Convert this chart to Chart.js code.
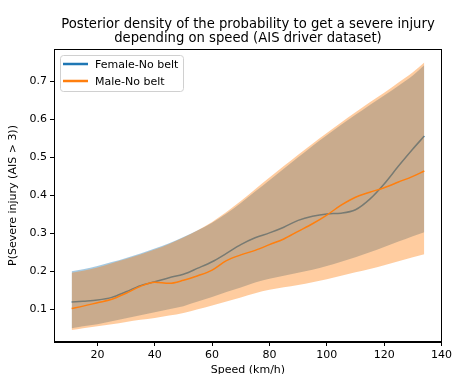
<!DOCTYPE html>
<html>
<head>
<meta charset="utf-8">
<script src="https://cdn.jsdelivr.net/npm/chart.js@4/dist/chart.umd.min.js"></script>
<style>
  html, body { margin: 0; padding: 0; background: #fff; }
  #wrap { width: 455px; height: 374px; }
</style>
</head>
<body>
<div id="wrap"><canvas id="chart"></canvas></div>
<script>
// speed grid (km/h)
const speeds = [11, 15, 20, 25, 30, 35, 40, 45, 50, 55, 60, 65, 70, 75, 80, 85, 90, 95, 100, 105, 110, 115, 120, 125, 130, 134];

// Female - No belt
const femaleMean = [0.119, 0.121, 0.124, 0.131, 0.146, 0.162, 0.172, 0.183, 0.192, 0.208, 0.225, 0.247, 0.270, 0.288, 0.301, 0.316, 0.334, 0.345, 0.351, 0.353, 0.362, 0.390, 0.430, 0.477, 0.522, 0.556];
const femaleUpper = [0.200, 0.205, 0.214, 0.224, 0.235, 0.247, 0.260, 0.274, 0.290, 0.308, 0.328, 0.352, 0.380, 0.410, 0.440, 0.470, 0.500, 0.530, 0.558, 0.586, 0.612, 0.638, 0.663, 0.689, 0.716, 0.743];
const femaleLower = [0.050, 0.055, 0.060, 0.068, 0.076, 0.084, 0.092, 0.100, 0.108, 0.120, 0.132, 0.145, 0.157, 0.170, 0.180, 0.188, 0.196, 0.204, 0.214, 0.225, 0.237, 0.250, 0.264, 0.278, 0.292, 0.303];

// Male - No belt
const maleMean = [0.102, 0.108, 0.117, 0.126, 0.142, 0.160, 0.171, 0.168, 0.176, 0.188, 0.203, 0.228, 0.243, 0.255, 0.270, 0.285, 0.305, 0.325, 0.348, 0.374, 0.395, 0.408, 0.420, 0.435, 0.450, 0.464];
const maleUpper = [0.196, 0.201, 0.210, 0.221, 0.232, 0.244, 0.257, 0.272, 0.289, 0.308, 0.330, 0.356, 0.385, 0.416, 0.447, 0.477, 0.507, 0.536, 0.564, 0.592, 0.619, 0.645, 0.670, 0.697, 0.724, 0.750];
const maleLower = [0.045, 0.050, 0.055, 0.060, 0.066, 0.072, 0.077, 0.083, 0.090, 0.100, 0.110, 0.120, 0.131, 0.142, 0.151, 0.158, 0.164, 0.171, 0.179, 0.188, 0.197, 0.206, 0.216, 0.226, 0.237, 0.245];

const xTicks = [20, 40, 60, 80, 100, 120, 140];
const yTicks = [0.1, 0.2, 0.3, 0.4, 0.5, 0.6, 0.7];
const seriesNames = ['Female-No belt', 'Male-No belt'];
const titleLines = ['Posterior density of the probability to get a severe injury', 'depending on speed (AIS driver dataset)'];

const BLUE = '#1f77b4';
const ORANGE = '#ff7f0e';
const FONT = "'DejaVu Sans', sans-serif";

const pts = ys => speeds.map((x, i) => ({ x: x, y: ys[i] }));

// title + frame + legend, matplotlib style
const decorations = {
  id: 'decorations',
  afterDraw(chart) {
    const ctx = chart.ctx;
    const a = chart.chartArea;
    ctx.save();

    // frame (all four spines)
    ctx.strokeStyle = '#000';
    ctx.lineWidth = 1;
    ctx.strokeRect(Math.round(a.left) + 0.5, Math.round(a.top) + 0.5,
      Math.round(a.right - a.left) - 1, Math.round(a.bottom - a.top) - 1);

    // title
    ctx.fillStyle = '#000';
    ctx.font = '13.2px ' + FONT;
    ctx.textAlign = 'center';
    ctx.textBaseline = 'middle';
    const cx = (a.left + a.right) / 2;
    ctx.fillText(titleLines[0], cx, 25);
    ctx.fillText(titleLines[1], cx, 39);

    // legend
    const lx = a.left + 6, ly = a.top + 6, lw = 123, lh = 36;
    ctx.beginPath();
    ctx.roundRect(lx + 0.5, ly + 0.5, lw, lh, 3);
    ctx.fillStyle = 'rgba(255,255,255,0.8)';
    ctx.fill();
    ctx.strokeStyle = '#d0d0d0';
    ctx.lineWidth = 1;
    ctx.stroke();

    ctx.font = '11px ' + FONT;
    ctx.textAlign = 'left';
    [BLUE, ORANGE].forEach((c, i) => {
      const y = ly + 9 + i * 17;
      ctx.strokeStyle = c;
      ctx.lineWidth = 2.5;
      ctx.beginPath();
      ctx.moveTo(lx + 3, y);
      ctx.lineTo(lx + 28, y);
      ctx.stroke();
      ctx.fillStyle = '#000';
      ctx.fillText(seriesNames[i], lx + 35, y + 1);
    });
    ctx.restore();
  }
};

new Chart(document.getElementById('chart'), {
  type: 'line',
  data: {
    datasets: [
      {
        label: seriesNames[0],
        data: pts(femaleMean),
        borderColor: BLUE,
        borderWidth: 1.5,
        pointRadius: 0,
        fill: false,
        cubicInterpolationMode: 'monotone',
        order: 3
      },
      {
        label: 'female upper',
        data: pts(femaleUpper),
        borderWidth: 0,
        pointRadius: 0,
        backgroundColor: 'rgba(31,119,180,0.4)',
        fill: 2,
        cubicInterpolationMode: 'monotone',
        order: 4
      },
      {
        label: 'female lower',
        data: pts(femaleLower),
        borderWidth: 0,
        pointRadius: 0,
        fill: false,
        cubicInterpolationMode: 'monotone',
        order: 4
      },
      {
        label: seriesNames[1],
        data: pts(maleMean),
        borderColor: ORANGE,
        borderWidth: 1.5,
        pointRadius: 0,
        fill: false,
        cubicInterpolationMode: 'monotone',
        order: 1
      },
      {
        label: 'male upper',
        data: pts(maleUpper),
        borderWidth: 0,
        pointRadius: 0,
        backgroundColor: 'rgba(255,127,14,0.4)',
        fill: 5,
        cubicInterpolationMode: 'monotone',
        order: 2
      },
      {
        label: 'male lower',
        data: pts(maleLower),
        borderWidth: 0,
        pointRadius: 0,
        fill: false,
        cubicInterpolationMode: 'monotone',
        order: 2
      }
    ]
  },
  options: {
    responsive: true,
    maintainAspectRatio: false,
    animation: false,
    layout: { padding: { top: 49, right: 9, left: 0, bottom: 0 } },
    plugins: {
      legend: { display: false },
      title: { display: false },
      tooltip: { enabled: false }
    },
    scales: {
      x: {
        type: 'linear',
        min: 4.85,
        max: 140.15,
        afterFit: s => { s.height = 32; },
        afterBuildTicks: s => { s.ticks = xTicks.map(v => ({ value: v })); },
        grid: { display: true, drawOnChartArea: false, color: '#000', tickLength: 4 },
        border: { display: true, color: '#000' },
        ticks: { color: '#000', font: { family: FONT, size: 11 }, padding: 3, maxRotation: 0 },
        title: { display: true, text: 'Speed (km/h)', color: '#000', font: { family: FONT, size: 11 }, padding: { top: 0, bottom: -3 } }
      },
      y: {
        type: 'linear',
        min: 0.0135,
        max: 0.7855,
        afterFit: s => { s.width = 54; },
        afterBuildTicks: s => { s.ticks = yTicks.map(v => ({ value: v })); },
        grid: { display: true, drawOnChartArea: false, color: '#000', tickLength: 4 },
        border: { display: true, color: '#000' },
        ticks: { color: '#000', font: { family: FONT, size: 11 }, padding: 3, callback: v => v.toFixed(1) },
        title: { display: true, text: 'P(Severe injury (AIS > 3))', color: '#000', font: { family: FONT, size: 11 }, padding: 7 }
      }
    }
  },
  plugins: [decorations]
});
</script>
</body>
</html>
